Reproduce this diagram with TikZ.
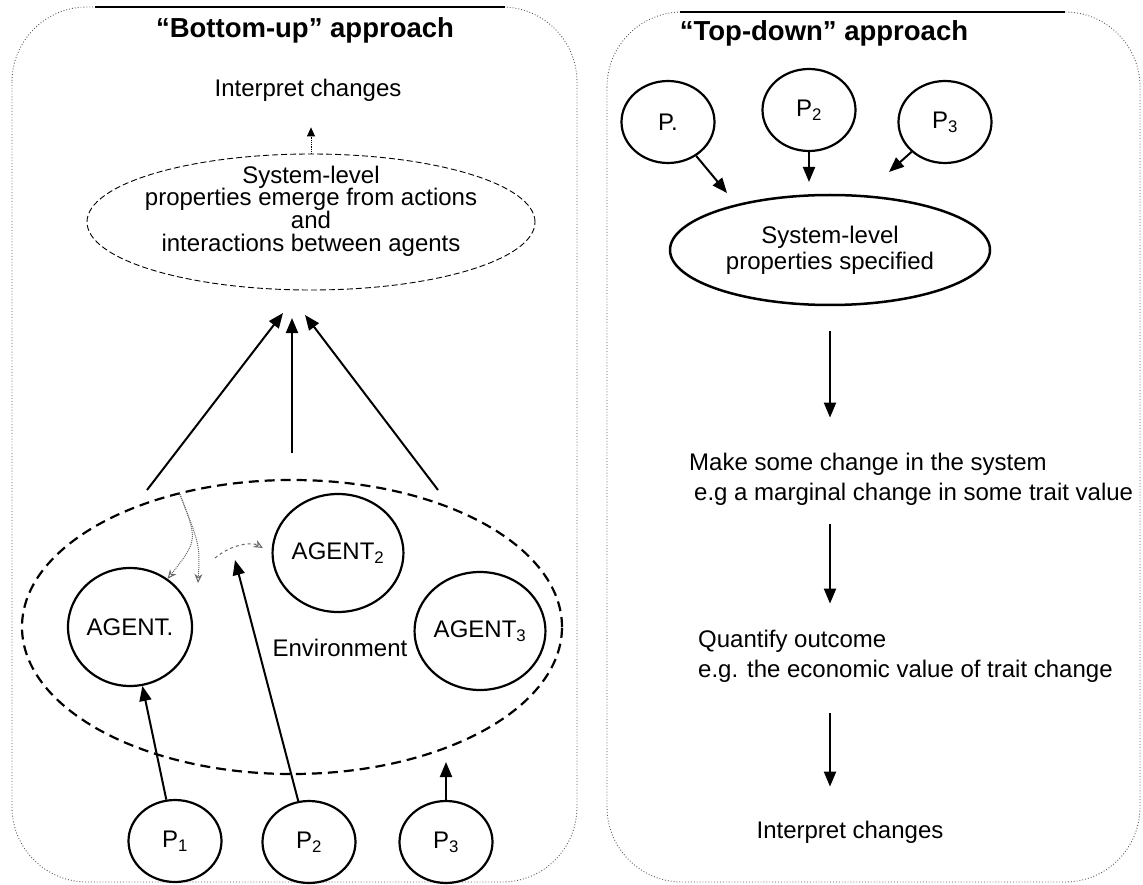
\documentclass[tikz,border=0pt]{standalone}
\usepackage{fontspec}
\setmainfont{Liberation Sans}
\usetikzlibrary{arrows.meta,shapes.geometric,positioning}
\begin{document}
\begin{tikzpicture}[x=1pt,y=-1pt]
  % Define panel, node and arrow styles
  \tikzstyle{mypanel} = [draw=black!65, dotted, line width=0.9pt, rounded corners=75pt]
  \tikzstyle{fancytitle} = [font=\bfseries\fontsize{27.5}{27.5}\selectfont]
  \tikzstyle{plaintext} = [font=\fontsize{24}{30}\selectfont, inner sep=0pt]
  \tikzstyle{agentcircle} = [draw, ellipse, line width=2.2pt, minimum width=124pt,
  minimum height=118pt, inner sep=0pt, font=\fontsize{24}{24}\selectfont]
  \tikzstyle{pcircle} = [draw, ellipse, line width=2.2pt, minimum width=93pt,
  minimum height=82pt, inner sep=0pt, font=\fontsize{24}{24}\selectfont]
  \tikzstyle{myarrow} = [line width=2pt, -{Triangle[length=15pt,width=12pt]}]
  \tikzstyle{interaction} = [black!60, line width=1pt, -{Stealth[open,length=9pt,width=8pt]}]

  \useasboundingbox (0,0) rectangle (1143,885);

  % "Bottom-up" panel
  \draw[mypanel] (12,7) rectangle (577,882);
  \draw[line width=1.3pt] (95,7) -- (505,7);
  \node[fancytitle] (bottomup) at (305,30) {“Bottom-up” approach};
  \node[plaintext] (interpleft) at (308,90) {Interpret changes};

  \node[draw, ellipse, dash pattern=on 6pt off 3pt, line width=0.9pt,
  minimum width=448pt, minimum height=136pt] (emerge) at (311,222) {};
  \node[plaintext, align=center, font=\fontsize{24}{22.7}\selectfont]
  (emergetext) at (311,211) {System-level\\properties emerge from actions\\and\\interactions between agents};
  \draw[densely dotted, line width=0.8pt, -{Triangle[length=9pt,width=8pt]},
  shorten >=26pt] (emerge.north) -- (emerge.north |- interpleft.south);

  \node[draw, ellipse, dash pattern=on 10pt off 6pt, line width=2.2pt,
  minimum width=540pt, minimum height=294pt] (env) at (292,627) {};
  \node[plaintext] (envtext) at (340,648) {Environment};

  \node[agentcircle] (agent1) at (130,627) {AGENT.};
  \node[agentcircle] (agent2) at (338,553) {AGENT\textsubscript{2}};
  \node[agentcircle] (agent3) at (480,631) {AGENT\textsubscript{3}};

  \node[pcircle] (p1) at (175,841) {P\textsubscript{1}};
  \node[pcircle] (p2) at (309,842) {P\textsubscript{2}};
  \node[pcircle] (p3) at (446,842) {P\textsubscript{3}};

  % ends of the arrows
  \coordinate (up1) at (147,490);
  \coordinate (up2) at (292,453);
  \coordinate (up3) at (438,490);
  \coordinate (tip1) at (283,313);
  \coordinate (tip2) at (292,318);
  \coordinate (tip3) at (305,315);
  \coordinate (p2tip) at (235,560);
  \coordinate (p3tip) at (446,762);
  \coordinate (talk) at (215,558);
  \coordinate (talk2) at (198,583);

  \draw[myarrow] (up1) -- (tip1);
  \draw[myarrow] (up2) -- (tip2);
  \draw[myarrow] (up3) -- (tip3);
  \draw[myarrow] (p1) -- (agent1);
  \draw[myarrow] (p2) -- (p2tip);
  \draw[myarrow] (p3.north) -- (p3tip);

  \draw[interaction, densely dotted] (env.130) .. controls (198,540) .. (agent1.52);
  \draw[interaction, densely dotted] (env.130) .. controls (200,545) .. (talk2);
  \draw[interaction, dashed, shorten >=10pt] (talk) to[bend left=35] (agent2.west);

  % "Top-down" panel
  \draw[mypanel] (607,12) rectangle (1140,882);
  \draw[line width=1.3pt] (680,12) -- (1065,12);
  \node[fancytitle] (topdown) at (824,33) {“Top-down” approach};

  \node[pcircle] (rp1) at (668,122) {P.};
  \node[pcircle] (rp2) at (809,110) {P\textsubscript{2}};
  \node[pcircle] (rp3) at (945,122) {P\textsubscript{3}};

  \node[draw, ellipse, line width=2.5pt, minimum width=320pt, minimum height=110pt,
  align=center, font=\fontsize{24}{26}\selectfont] (specified) at (830,250)
  {System-level\\properties specified};

  \coordinate (rtip1) at (727,193);
  \coordinate (rtip2) at (809,182);
  \coordinate (rtip3) at (889,172);
  \draw[myarrow] (rp1) -- (rtip1);
  \draw[myarrow] (rp2) -- (rtip2);
  \draw[myarrow] (rp3) -- (rtip3);

  \node[plaintext, anchor=west, align=left] (change) at (689,479)
  {Make some change in the system\\\hspace{5pt}e.g a marginal change in some trait value};
  \node[plaintext, anchor=west, align=left] (quantify) at (698,656)
  {Quantify outcome\\e.g. the economic value of trait change};
  \node[plaintext] (interpright) at (850,832) {Interpret changes};

  \draw[myarrow, shorten <=25pt, shorten >=35pt] (specified.south) -- (specified.south |- change.north);
  \draw[myarrow, shorten <=19pt, shorten >=26pt] (specified.south |- change.south) -- (specified.south |- quantify.north);
  \draw[myarrow, shorten <=31pt, shorten >=34pt] (specified.south |- quantify.south) -- (specified.south |- interpright.north);
\end{tikzpicture}
\end{document}
